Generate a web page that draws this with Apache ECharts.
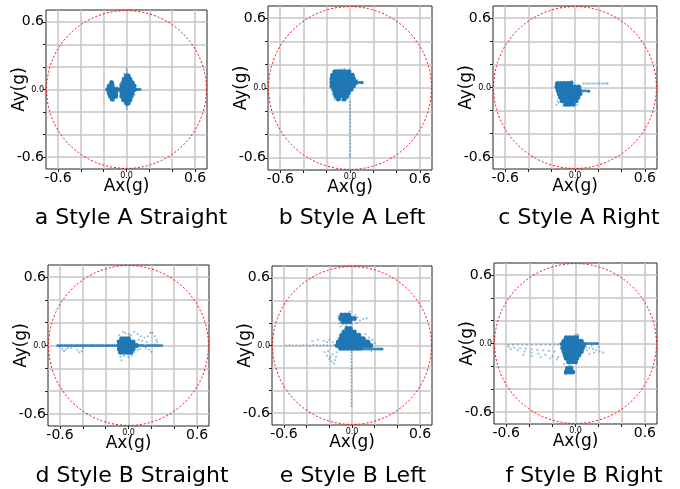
<!DOCTYPE html>
<html><head><meta charset="utf-8">
<script src="https://cdn.jsdelivr.net/npm/echarts@6/dist/echarts.min.js"></script>
<style>html,body{margin:0;padding:0;background:#fff}#c{width:680px;height:489px}</style>
</head><body><div id="c"></div>
<script>
// ---------- values ----------
const tickValues = [-0.6, 0, 0.6];
const tickLabels = ['-0.6', '0.0', '0.6'];
const gridValues = [-0.6, -0.4, -0.2, 0, 0.2, 0.4, 0.6];
const axisRange = 0.705;
const circleRadius = 0.7;
const xName = 'Ax(g)';
const yName = 'Ay(g)';
const panelTitles = ['a Style A Straight', 'b Style A Left', 'c Style A Right',
                     'd Style B Straight', 'e Style B Left', 'f Style B Right'];

// dense rows: [y, [x, x, ...]]
const aDenseRows = [
  [0.12, [0.0, 0.015]], [0.09, [-0.02, 0.005, 0.03]], [0.06, [-0.03, 0.0, 0.03, 0.05]],
  [0.03, [-0.04, -0.01, 0.02, 0.05, 0.065]], [0.0, [-0.05, -0.02, 0.01, 0.04, 0.07]],
  [-0.03, [-0.04, -0.01, 0.02, 0.05]], [-0.06, [-0.04, -0.01, 0.02, 0.04]],
  [-0.09, [-0.025, 0.0, 0.03]], [-0.12, [0.0, 0.015]],
  [0.06, [-0.13]], [0.03, [-0.15, -0.125]], [0.0, [-0.16, -0.13, -0.10, -0.085]],
  [-0.03, [-0.15, -0.12, -0.095]], [-0.06, [-0.14, -0.115, -0.095]], [-0.085, [-0.125]]
];
const aLine = [[-0.175, 0.0], [-0.165, 0.003], [-0.07, 0.0], [-0.062, -0.002], [0.09, 0.0], [0.105, 0.002], [0.12, 0.0]];
const aSparse = [
  [0.0, 0.185], [0.003, 0.165], [0.006, 0.145], [-0.01, 0.13], [0.0, -0.15], [0.003, -0.17], [0.006, -0.14],
  [-0.135, 0.075], [-0.16, -0.05], [-0.17, 0.02], [0.08, 0.03], [0.07, -0.05], [-0.055, 0.05],
  [-0.02, 0.14], [0.03, 0.11], [-0.11, -0.1], [-0.08, 0.02]
];

const bDenseRows = [
  [0.14, [-0.13, -0.10, -0.07, -0.04, -0.01]],
  [0.11, [-0.15, -0.12, -0.09, -0.06, -0.03, 0.0, 0.02]],
  [0.08, [-0.155, -0.12, -0.09, -0.06, -0.03, 0.0, 0.03]],
  [0.05, [-0.155, -0.12, -0.09, -0.06, -0.03, 0.0, 0.03, 0.05]],
  [0.02, [-0.155, -0.12, -0.09, -0.06, -0.03, 0.0, 0.03]],
  [-0.01, [-0.14, -0.11, -0.08, -0.05, -0.02, 0.01]],
  [-0.04, [-0.13, -0.10, -0.07, -0.04, -0.015]],
  [-0.07, [-0.12, -0.09, -0.05, -0.03]],
  [-0.095, [-0.10, -0.05]]
];
const bLine = [[0.07, 0.05], [0.085, 0.048], [0.1, 0.05], [0.105, 0.045]];
const bSparse = [
  [0.06, 0.03], [0.06, 0.07], [-0.08, 0.16], [-0.05, 0.165], [-0.11, 0.155],
  [-0.165, 0.06], [-0.165, 0.0], [-0.145, -0.06], [-0.13, -0.1], [-0.07, -0.105], [-0.02, -0.09],
  [0.0, -0.12], [0.001, -0.15], [-0.001, -0.18], [0.0, -0.21], [0.001, -0.24], [0.0, -0.27],
  [-0.001, -0.3], [0.0, -0.33], [0.001, -0.36], [0.0, -0.39], [0.0, -0.42], [-0.001, -0.45],
  [0.0, -0.48], [0.001, -0.51], [0.0, -0.54], [0.0, -0.57], [0.0, -0.59]
];

const cDenseRows = [
  [0.035, [-0.15, -0.12, -0.09, -0.06, -0.035]],
  [0.005, [-0.155, -0.12, -0.09, -0.06, -0.03, 0.0, 0.03]],
  [-0.025, [-0.145, -0.11, -0.08, -0.05, -0.02, 0.01, 0.04]],
  [-0.055, [-0.135, -0.10, -0.07, -0.04, -0.01, 0.02, 0.04]],
  [-0.085, [-0.125, -0.09, -0.06, -0.03, 0.0, 0.025]],
  [-0.115, [-0.11, -0.08, -0.05, -0.02, 0.01]],
  [-0.145, [-0.08, -0.045, -0.015]]
];
const cLine = [[0.07, -0.03], [0.09, -0.028], [0.11, -0.03], [0.12, -0.032]];
const cSparse = [
  [0.07, 0.034], [0.09, 0.035], [0.11, 0.033], [0.13, 0.034], [0.15, 0.035], [0.17, 0.034], [0.19, 0.034],
  [0.21, 0.036], [0.23, 0.034], [0.25, 0.035], [0.27, 0.034], [0.28, 0.035],
  [-0.03, 0.06], [-0.025, 0.05], [-0.02, 0.045], [0.05, 0.005], [0.06, -0.06],
  [-0.16, -0.15], [-0.14, -0.13], [-0.15, -0.12], [-0.165, 0.02], [-0.1, -0.16], [0.02, -0.15], [-0.06, -0.16]
];

const dDenseRows = [
  [0.06, [-0.06, -0.03, 0.0]],
  [0.03, [-0.08, -0.05, -0.02, 0.01, 0.04]],
  [0.0, [-0.08, -0.05, -0.02, 0.01, 0.04, 0.07]],
  [-0.03, [-0.08, -0.05, -0.02, 0.01, 0.04]],
  [-0.06, [-0.07, -0.04, -0.01, 0.02]]
];
const dLine = [
  [0.09, 0.0], [0.11, 0.002], [0.13, 0.0], [0.15, -0.002], [0.17, 0.0], [0.19, 0.001], [0.21, 0.0],
  [0.23, -0.001], [0.25, 0.0], [0.27, 0.001], [0.29, 0.0], [-0.1, 0.0], [-0.12, 0.001], [-0.14, 0.0],
  [-0.16, -0.001], [-0.18, 0.0], [-0.2, 0.0], [-0.22, 0.001], [-0.24, 0.0], [-0.26, 0.0], [-0.28, -0.001],
  [-0.3, 0.0], [-0.32, 0.0], [-0.34, 0.001], [-0.36, 0.0], [-0.38, 0.0], [-0.4, -0.001], [-0.42, 0.0],
  [-0.44, 0.0], [-0.46, 0.001], [-0.48, 0.0], [-0.5, 0.0], [-0.52, 0.0], [-0.54, -0.001], [-0.56, 0.0],
  [-0.58, 0.0], [-0.6, 0.0], [-0.62, 0.0]
];
const dSparse = [
  [-0.05, 0.12], [-0.03, 0.11], [0.0, 0.10], [0.02, 0.09], [-0.08, 0.09], [-0.07, -0.1], [-0.06, -0.13],
  [-0.04, -0.09], [0.0, -0.1], [0.03, -0.085], [0.05, -0.06], [0.08, -0.04], [0.09, 0.05], [-0.09, -0.04],
  [-0.1, 0.04], [0.05, 0.12], [0.08, 0.10], [0.11, 0.08], [0.14, 0.07], [0.17, 0.08], [0.19, 0.11],
  [0.21, 0.11], [0.23, 0.08], [0.245, 0.05], [0.25, 0.03], [0.23, 0.01], [0.15, -0.02], [0.1, -0.03],
  [0.18, -0.035], [0.2, -0.055], [0.12, 0.04], [0.16, 0.03],
  [-0.6, -0.01], [-0.58, -0.03], [-0.565, -0.05], [-0.55, -0.035], [-0.53, -0.02], [-0.45, -0.04],
  [-0.43, -0.06], [-0.41, -0.05], [-0.4, -0.02], [-0.5, -0.02]
];

const eDenseRows = [
  [0.27, [-0.09, -0.06, -0.03]],
  [0.24, [-0.10, -0.07, -0.04, -0.01, 0.02]],
  [0.21, [-0.08, -0.05, -0.02]],
  [0.15, [-0.045, -0.015]],
  [0.12, [-0.07, -0.04, -0.01, 0.02]],
  [0.09, [-0.09, -0.06, -0.03, 0.0, 0.03, 0.06]],
  [0.06, [-0.10, -0.07, -0.04, -0.01, 0.02, 0.05, 0.08, 0.10]],
  [0.03, [-0.12, -0.09, -0.06, -0.03, 0.0, 0.03, 0.06, 0.09, 0.12, 0.14]],
  [0.0, [-0.13, -0.10, -0.07, -0.04, -0.01, 0.02, 0.05, 0.08, 0.11, 0.14, 0.165]],
  [-0.025, [-0.10, -0.07, -0.04, -0.01, 0.02, 0.05, 0.08]]
];
const eLine = [[0.11, -0.03], [0.13, -0.031], [0.15, -0.03], [0.17, -0.029], [0.19, -0.03], [0.21, -0.031],
  [0.23, -0.03], [0.25, -0.03], [0.265, -0.03]];
const eSparse = [
  [-0.08, 0.19], [-0.05, 0.18], [-0.1, 0.17], [0.0, 0.19], [0.04, 0.2], [0.07, 0.22], [0.1, 0.235],
  [0.13, 0.24], [0.05, 0.25], [0.12, 0.1], [0.15, 0.07], [-0.11, 0.2], [-0.12, 0.26], [0.03, 0.27], [-0.02, 0.3],
  [-0.58, 0.0], [-0.55, 0.003], [-0.52, 0.0], [-0.49, 0.002], [-0.46, 0.0], [-0.43, 0.004], [-0.4, 0.002],
  [-0.37, 0.0], [-0.34, 0.005], [-0.31, 0.003], [-0.28, 0.0], [-0.25, 0.004], [-0.22, 0.002], [-0.19, 0.0],
  [-0.16, 0.003], [-0.3, 0.05], [-0.25, 0.04], [-0.2, 0.05], [-0.17, 0.03], [-0.35, 0.04], [-0.22, 0.03],
  [-0.24, -0.06], [-0.22, -0.09], [-0.2, -0.12], [-0.18, -0.14], [-0.16, -0.16], [-0.21, -0.05],
  [-0.17, -0.08], [-0.14, -0.1], [-0.13, -0.06], [-0.19, -0.1], [-0.15, -0.13],
  [-0.005, -0.06], [-0.004, -0.09], [-0.006, -0.12], [-0.005, -0.15], [-0.004, -0.18], [-0.005, -0.21],
  [-0.006, -0.24], [-0.005, -0.27], [-0.004, -0.3], [-0.005, -0.33], [-0.005, -0.36], [-0.006, -0.39],
  [-0.005, -0.42], [-0.004, -0.45], [-0.005, -0.48], [-0.005, -0.51], [-0.005, -0.535],
  [0.2, 0.02], [0.18, 0.05], [0.17, -0.05]
];

const fDenseRows = [
  [0.05, [-0.08, -0.05, -0.02, 0.01]],
  [0.02, [-0.10, -0.07, -0.04, -0.01, 0.02, 0.05]],
  [-0.01, [-0.11, -0.08, -0.05, -0.02, 0.01, 0.04, 0.07]],
  [-0.04, [-0.11, -0.08, -0.05, -0.02, 0.01, 0.04, 0.06]],
  [-0.07, [-0.10, -0.07, -0.04, -0.01, 0.02, 0.05]],
  [-0.10, [-0.09, -0.06, -0.03, 0.0, 0.03]],
  [-0.13, [-0.08, -0.05, -0.02, 0.01]],
  [-0.16, [-0.06, -0.03, 0.0]],
  [-0.22, [-0.07, -0.04]],
  [-0.25, [-0.08, -0.05, -0.025]]
];
const fLine = [[0.08, 0.0], [0.1, 0.0], [0.12, 0.001], [0.14, 0.0], [0.16, 0.0], [0.18, 0.0], [0.19, 0.001], [-0.125, 0.0]];
const fSparse = [
  [0.02, 0.08], [0.025, 0.07], [0.0, 0.075],
  [0.09, -0.03], [0.12, -0.04], [0.15, -0.05], [0.18, -0.06], [0.21, -0.07], [0.24, -0.08], [0.1, -0.06],
  [0.14, -0.02], [0.2, -0.03], [0.16, -0.08], [0.12, -0.09],
  [-0.05, -0.19], [-0.03, -0.2], [-0.06, -0.2], [-0.09, -0.27], [-0.1, -0.18],
  [-0.58, -0.01], [-0.54, -0.01], [-0.5, -0.008], [-0.46, -0.01], [-0.42, -0.012], [-0.38, -0.01],
  [-0.34, -0.011], [-0.3, -0.01], [-0.26, -0.009], [-0.22, -0.01], [-0.18, -0.008], [-0.15, -0.01],
  [-0.58, -0.03], [-0.53, -0.035], [-0.48, -0.04], [-0.43, -0.045], [-0.38, -0.05], [-0.33, -0.055],
  [-0.28, -0.06], [-0.23, -0.065], [-0.18, -0.07],
  [-0.56, -0.05], [-0.5, -0.06], [-0.44, -0.07], [-0.38, -0.08], [-0.32, -0.09], [-0.26, -0.1],
  [-0.2, -0.11], [-0.15, -0.12],
  [-0.45, -0.1], [-0.38, -0.11], [-0.3, -0.12], [-0.22, -0.13], [-0.16, -0.14]
];

// ---------- layout (pixels) ----------
const boxes = [
  [46, 10, 161, 159], [268, 6, 164, 164], [493, 6, 164, 163],
  [48, 265, 161, 161], [272, 266, 160, 159], [494, 263, 163, 161]
];
const titleCenters = [[131, 218], [352, 218], [579, 218], [132, 476], [353, 476], [584, 476]];

const panelData = [
  [aDenseRows, aLine, aSparse], [bDenseRows, bLine, bSparse], [cDenseRows, cLine, cSparse],
  [dDenseRows, dLine, dSparse], [eDenseRows, eLine, eSparse], [fDenseRows, fLine, fSparse]
];

const BLUE = '#1f77b4';
const grids = [], xAxes = [], yAxes = [], series = [], titles = [];
const labelFmt = v => {
  const idx = tickValues.findIndex(t => Math.abs(t - v) < 1e-9);
  const s = idx >= 0 ? tickLabels[idx] : '';
  return Math.abs(v) < 1e-9 ? '{s|' + s + '}' : '{b|' + s + '}';
};
const rich = {
  s: { fontSize: 8, lineHeight: 9, fontFamily: 'DejaVu Sans', color: '#000' },
  b: { fontSize: 14, lineHeight: 14, fontFamily: 'DejaVu Sans', color: '#000' }
};
function axisCommon(i) {
  return {
    type: 'value', gridIndex: i, min: -axisRange, max: axisRange,
    axisLine: { show: false, onZero: false },
    axisTick: { show: true, customValues: gridValues, length: 3, lineStyle: { color: '#222', width: 1 } },
    axisLabel: { customValues: tickValues, formatter: labelFmt, rich: rich, margin: 2 },
    splitLine: { show: true, lineStyle: { color: '#c6c6c6', width: 1.5 } },
    nameLocation: 'middle',
    nameMoveOverlap: false,
    nameTextStyle: { fontFamily: 'DejaVu Sans', fontSize: 17, color: '#000' }
  };
}
boxes.forEach((b, i) => {
  grids.push({ left: b[0], top: b[1], width: b[2], height: b[3], show: true,
    borderColor: '#222', borderWidth: 1, backgroundColor: 'transparent', containLabel: false });
  const xa = axisCommon(i), ya = axisCommon(i);
  xa.position = 'bottom'; ya.position = 'left';
  xAxes.push(Object.assign(xa, { name: xName, nameGap: 9 }));
  yAxes.push(Object.assign(ya, { name: yName, nameGap: 18 }));
  const [rows, line, sparse] = panelData[i];
  const dense = [];
  rows.forEach(([y, xs]) => xs.forEach(x => dense.push([x, y])));
  series.push({ type: 'scatter', xAxisIndex: i, yAxisIndex: i, data: sparse, symbolSize: 2.2,
    itemStyle: { color: BLUE, opacity: 0.45 }, silent: true });
  series.push({ type: 'scatter', xAxisIndex: i, yAxisIndex: i, data: line, symbolSize: 3,
    itemStyle: { color: BLUE, opacity: 0.85 }, silent: true });
  series.push({ type: 'scatter', xAxisIndex: i, yAxisIndex: i, data: dense, symbolSize: 5,
    itemStyle: { color: BLUE, opacity: 1 }, silent: true });
  titles.push({ text: panelTitles[i], left: titleCenters[i][0], top: titleCenters[i][1] - 11,
    textAlign: 'center', padding: 0,
    textStyle: { fontFamily: 'DejaVu Sans', fontSize: 22, lineHeight: 22, fontWeight: 'normal', color: '#000' } });
});

const chart = echarts.init(document.getElementById('c'), null, { renderer: 'canvas' });
chart.setOption({
  animation: false, backgroundColor: '#fff',
  title: titles, grid: grids, xAxis: xAxes, yAxis: yAxes, series: series
});

const circles = boxes.map((b, i) => {
  const c = chart.convertToPixel({ gridIndex: i }, [0, 0]);
  const px = chart.convertToPixel({ gridIndex: i }, [circleRadius, 0]);
  const py = chart.convertToPixel({ gridIndex: i }, [0, circleRadius]);
  const rx = px[0] - c[0], ry = c[1] - py[1];
  return { type: 'circle', x: c[0], y: c[1], scaleY: ry / rx, silent: true, z: 100,
    shape: { cx: 0, cy: 0, r: rx },
    style: { fill: 'transparent', stroke: '#ff0000', lineWidth: 1, lineDash: [2, 2] } };
});
chart.setOption({ graphic: circles });
</script>
</body></html>
